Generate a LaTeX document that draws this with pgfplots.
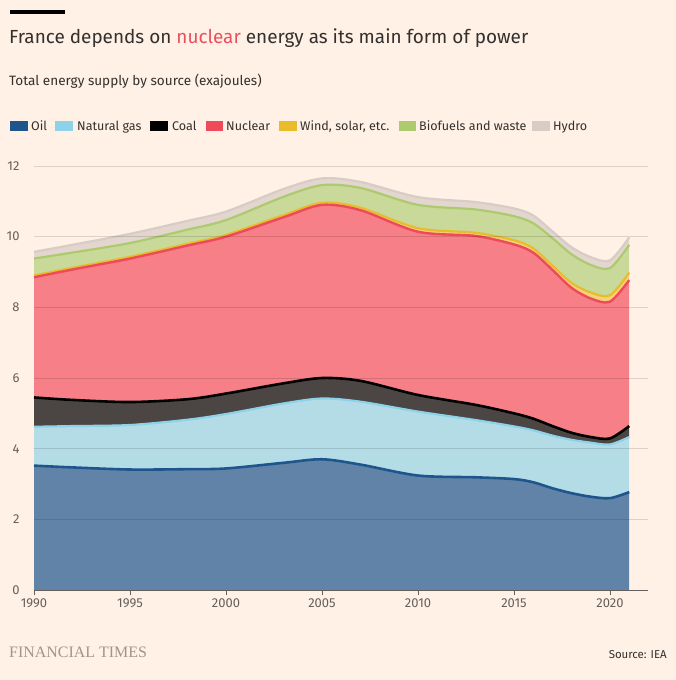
\documentclass[border=0pt]{standalone}
\usepackage{fontspec}
\setmainfont{Fira Sans}
\newfontfamily\ftserif{Liberation Serif}
\usepackage{pgfplots}
\usepackage{pgfplotstable}
\pgfplotsset{compat=1.18}
\usepgfplotslibrary{fillbetween}
\definecolor{bg}{HTML}{FFF1E5}
\pagecolor{bg}
\definecolor{txt}{HTML}{33302E}
\definecolor{tick}{HTML}{66605C}
\definecolor{oilL}{HTML}{1E558C}
\definecolor{oilF}{HTML}{6283A8}
\definecolor{gasL}{HTML}{8ED2EA}
\definecolor{gasF}{HTML}{B4DCE6}
\definecolor{coalL}{HTML}{000000}
\definecolor{coalF}{HTML}{4B4643}
\definecolor{nucL}{HTML}{EE4A5A}
\definecolor{nucF}{HTML}{F77F87}
\definecolor{nucT}{HTML}{EB4E5C}
\definecolor{windL}{HTML}{E9BC2C}
\definecolor{windF}{HTML}{F3D27A}
\definecolor{bioL}{HTML}{ADCB6E}
\definecolor{bioF}{HTML}{C8D99A}
\definecolor{hydL}{HTML}{D8CDC6}
\definecolor{hydF}{HTML}{E2D6CE}
\definecolor{ftgrey}{HTML}{A0958D}
% cumulative top of each layer (exajoules)
\pgfplotstableread{
year oil gas coal nuc wind bio hydro
1990 3.52 4.62 5.45 8.85 8.90 9.38 9.57
1992 3.47 4.64 5.38 9.07 9.12 9.55 9.77
1995 3.41 4.67 5.32 9.38 9.43 9.82 10.08
1998 3.42 4.82 5.40 9.75 9.80 10.20 10.45
2000 3.44 4.98 5.56 10.00 10.05 10.47 10.71
2003 3.60 5.28 5.85 10.55 10.61 11.13 11.35
2005 3.70 5.42 6.00 10.90 10.96 11.46 11.65
2007 3.55 5.33 5.92 10.75 10.82 11.38 11.55
2010 3.24 5.05 5.52 10.14 10.24 10.90 11.12
2013 3.19 4.81 5.24 10.02 10.11 10.77 10.98
2015 3.14 4.63 5.00 9.78 9.90 10.58 10.80
2016 3.05 4.52 4.85 9.55 9.67 10.38 10.60
2017 2.88 4.37 4.64 9.06 9.18 9.96 10.15
2018 2.74 4.25 4.45 8.55 8.69 9.50 9.70
2019 2.64 4.17 4.33 8.25 8.42 9.20 9.42
2020 2.60 4.12 4.29 8.16 8.34 9.11 9.33
2021 2.77 4.33 4.64 8.77 8.98 9.77 9.98
}\data
\begin{document}
\begin{tikzpicture}[x=1bp,y=1bp]
\path (0,0) rectangle (676,-680);
\fill[black] (10,-10.5) rectangle (65,-14.5);
\node[anchor=base west, inner sep=0, font=\fontsize{19}{21}\selectfont, text=txt] at (9,-44) {France depends on \textcolor{nucT}{nuclear} energy as its main form of power};
\node[anchor=base west, inner sep=0, font=\fontsize{13.6}{15}\selectfont, text=txt] at (9,-86) {Total energy supply by source (exajoules)};
% legend
\begin{scope}[font=\fontsize{12.6}{14}\selectfont, text=txt]
\fill[oilL] (10,-121) rectangle (28,-131);
\node[anchor=base west, inner sep=0] at (31,-131) {Oil};
\fill[gasL] (55,-121) rectangle (73,-131);
\node[anchor=base west, inner sep=0] at (77,-131) {Natural gas};
\fill[coalL] (150,-121) rectangle (168,-131);
\node[anchor=base west, inner sep=0] at (172,-131) {Coal};
\fill[nucL] (206,-121) rectangle (223,-131);
\node[anchor=base west, inner sep=0] at (226,-131) {Nuclear};
\fill[windL] (279,-121) rectangle (297,-131);
\node[anchor=base west, inner sep=0] at (300,-131) {Wind, solar, etc.};
\fill[bioL] (399,-121) rectangle (416,-131);
\node[anchor=base west, inner sep=0] at (419,-131) {Biofuels and waste};
\fill[hydL] (532,-121) rectangle (550,-131);
\node[anchor=base west, inner sep=0] at (553,-131) {Hydro};
\end{scope}
\begin{axis}[
  at={(34bp,-590bp)}, anchor=south west,
  scale only axis, width=614.4bp, height=424bp,
  xmin=1990, xmax=2022, ymin=0, ymax=12,
  axis on top,
  axis x line*=bottom, axis y line*=left,
  y axis line style={draw=none},
  x axis line style={draw=tick, line width=0.8pt},
  xtick={1990,1995,...,2020}, ytick={0,2,...,12},
  xticklabel style={font=\fontsize{13}{14}\selectfont, text=tick},
  yticklabel style={font=\fontsize{13}{14}\selectfont, text=tick, anchor=east, xshift=-6bp},
  x tick style={draw=tick, line width=0.8pt}, tick align=outside, major tick length=5bp,
  y tick style={draw=none},
  /pgf/number format/assume math mode=true,
  /pgf/number format/1000 sep={},
  ymajorgrids, grid style={black, opacity=0.13, line width=0.8pt},
  clip=false,
]
\addplot[draw=none, name path=base] coordinates {(1990,0) (2021,0)};
\addplot[draw=none, smooth, name path=oil] table[x=year, y=oil] {\data};
\addplot[draw=none, smooth, name path=gas] table[x=year, y=gas] {\data};
\addplot[draw=none, smooth, name path=coal] table[x=year, y=coal] {\data};
\addplot[draw=none, smooth, name path=nuc] table[x=year, y=nuc] {\data};
\addplot[draw=none, smooth, name path=wind] table[x=year, y=wind] {\data};
\addplot[draw=none, smooth, name path=bio] table[x=year, y=bio] {\data};
\addplot[draw=none, smooth, name path=hydro] table[x=year, y=hydro] {\data};
\addplot[fill=oilF] fill between[of=oil and base];
\addplot[fill=gasF] fill between[of=gas and oil];
\addplot[fill=coalF] fill between[of=coal and gas];
\addplot[fill=nucF] fill between[of=nuc and coal];
\addplot[fill=windF] fill between[of=wind and nuc];
\addplot[fill=bioF] fill between[of=bio and wind];
\addplot[fill=hydF] fill between[of=hydro and bio];
\addplot[hydL, line width=2.2pt, smooth] table[x=year, y=hydro] {\data};
\addplot[bioL, line width=2.2pt, smooth] table[x=year, y=bio] {\data};
\addplot[windL, line width=2.2pt, smooth] table[x=year, y=wind] {\data};
\addplot[nucL, line width=2.4pt, smooth] table[x=year, y=nuc] {\data};
\addplot[coalL, line width=2.6pt, smooth] table[x=year, y=coal] {\data};
\addplot[gasL, line width=2.2pt, smooth] table[x=year, y=gas] {\data};
\addplot[oilL, line width=2.6pt, smooth] table[x=year, y=oil] {\data};
\end{axis}
\node[anchor=base west, inner sep=0, font=\ftserif\fontsize{16}{18}\selectfont, text=ftgrey] at (9,-657) {FINANCIAL TIMES};
\node[anchor=base east, inner sep=0, font=\fontsize{11.5}{13}\selectfont, text=txt] at (667,-658) {Source: IEA};
\end{tikzpicture}
\end{document}
